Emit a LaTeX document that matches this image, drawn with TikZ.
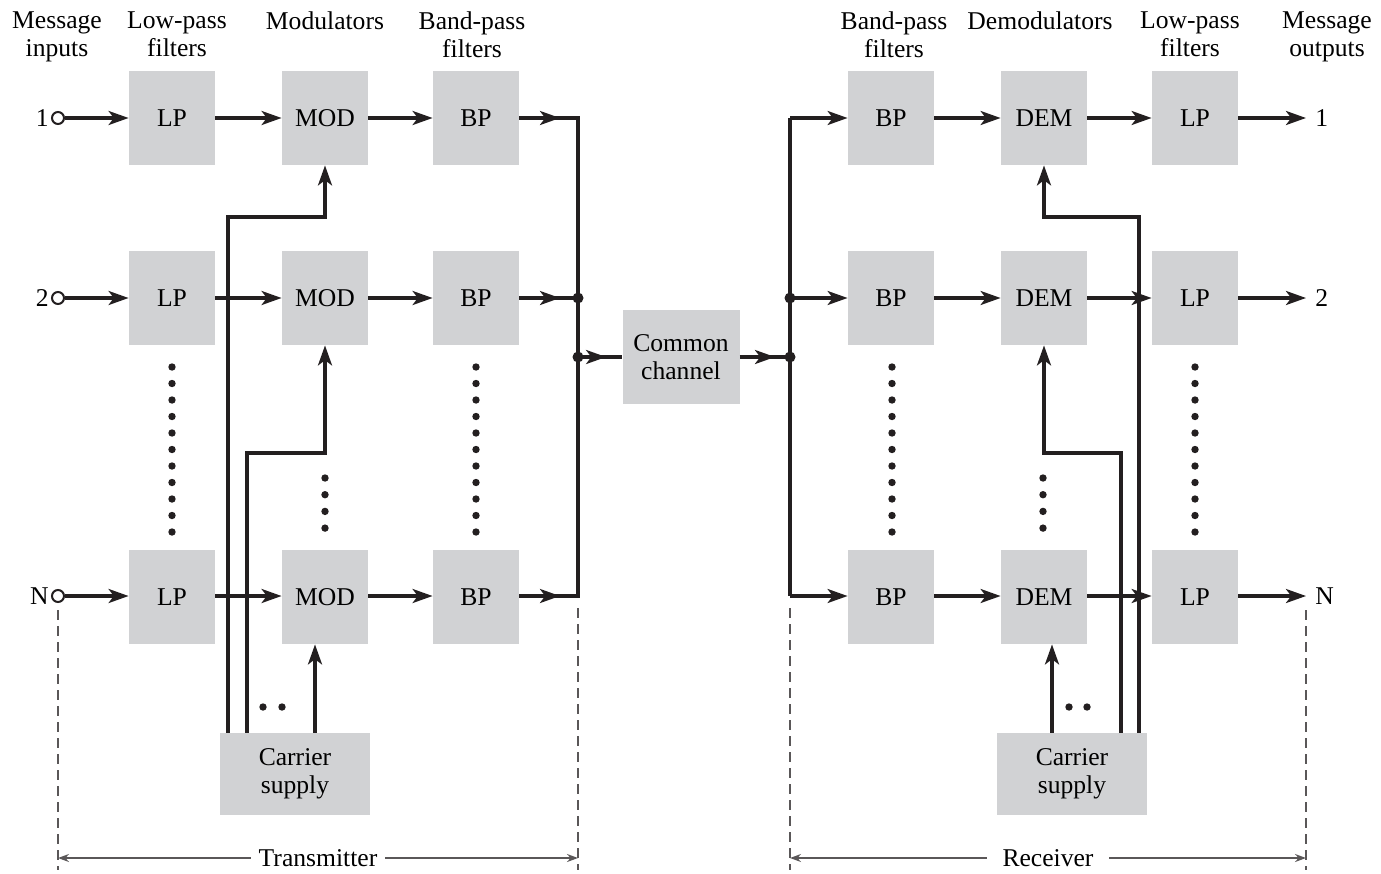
\documentclass[tikz,border=0pt]{standalone}
\usepackage{fontspec}
\setmainfont{Liberation Serif}
\usetikzlibrary{arrows.meta}

\definecolor{boxgray}{RGB}{209,210,212}
\definecolor{ink}{RGB}{35,31,32}

\tikzset{
    blk/.style={fill=boxgray, minimum width=43pt, minimum height=47pt,
        inner sep=0pt, align=center},
    wire/.style={draw=ink, line width=1.6pt},
    tip/.style={-{Stealth[length=10pt,width=7pt,inset=2.6pt]}},
    hdr/.style={align=center, anchor=north, inner sep=0pt},
    incirc/.style={circle, draw=ink, line width=1pt, fill=white,
        minimum size=6pt, inner sep=0pt},
    bound/.style={draw=ink!75, line width=0.8pt, dash pattern=on 5pt off 3pt},
    span/.style={draw=ink!75, line width=0.8pt,
        {Stealth[length=5.5pt,width=4pt]}-{Stealth[length=5.5pt,width=4pt]}}
}

\begin{document}
\begin{tikzpicture}[x=0.5pt, y=-0.5pt, font=\fontsize{12.8}{14}\selectfont]
    \useasboundingbox (0,0) rectangle (1381,873);

    % headings
    \node[hdr] (hin)  at (57,11)   {Message\\inputs};
    \node[hdr] (hlp)  at (177,11)  {Low-pass\\filters};
    \node[hdr] (hmod) at (325,11)  {Modulators};
    \node[hdr] (hbp)  at (472,11)  {Band-pass\\filters};
    \node[hdr] (rbp)  at (894,11)  {Band-pass\\filters};
    \node[hdr] (rdem) at (1040,11) {Demodulators};
    \node[hdr] (rlp)  at (1190,11) {Low-pass\\filters};
    \node[hdr] (rout) at (1327,11) {Message\\outputs};

    % transmitter
    \node[incirc] (in1) at (58,118) {};
    \node[incirc] (in2) at (58,298) {};
    \node[incirc] (inN) at (58,596) {};
    \node[anchor=east, inner sep=1pt] (lab1) at (in1.west) {1};
    \node[anchor=east, inner sep=1pt] (lab2) at (in2.west) {2};
    \node[anchor=east, inner sep=1pt] (labN) at (inN.west) {N};

    \node[blk] (lp1)  at (172,118) {LP};
    \node[blk] (mod1) at (325,118) {MOD};
    \node[blk] (bp1)  at (476,118) {BP};
    \node[blk] (lp2)  at (172,298) {LP};
    \node[blk] (mod2) at (325,298) {MOD};
    \node[blk] (bp2)  at (476,298) {BP};
    \node[blk] (lpN)  at (172,597) {LP};
    \node[blk] (modN) at (325,597) {MOD};
    \node[blk] (bpN)  at (476,597) {BP};
    \node[blk, minimum width=75pt, minimum height=41pt] (cs1) at (295,774) {Carrier\\supply};

    \coordinate (tb1) at (578,118);
    \coordinate (tb2) at (578,298);
    \coordinate (tbc) at (578,357);
    \coordinate (tbN) at (578,596);
    \coordinate (t1) at (228,217);
    \coordinate (t2) at (247,453);
    \coordinate (t3) at (315,700);

    % channel
    \node[blk, minimum width=58.5pt] (chan) at (681,357) {Common\\channel};

    % receiver
    \node[blk] (bpr1)  at (891,118)  {BP};
    \node[blk] (dem1)  at (1044,118) {DEM};
    \node[blk] (lpr1)  at (1195,118) {LP};
    \node[blk] (bpr2)  at (891,298)  {BP};
    \node[blk] (dem2)  at (1044,298) {DEM};
    \node[blk] (lpr2)  at (1195,298) {LP};
    \node[blk] (bprN)  at (891,597)  {BP};
    \node[blk] (demN)  at (1044,597) {DEM};
    \node[blk] (lprN)  at (1195,597) {LP};
    \node[blk, minimum width=75pt, minimum height=41pt] (cs2) at (1072,774) {Carrier\\supply};

    \coordinate (rb1) at (790,118);
    \coordinate (rb2) at (790,298);
    \coordinate (rbc) at (790,357);
    \coordinate (rbN) at (790,596);
    \coordinate (r1) at (1139,217);
    \coordinate (r2) at (1121,453);
    \coordinate (r3) at (1052,700);

    \coordinate (out1) at (1306,118);
    \coordinate (out2) at (1306,298);
    \coordinate (outN) at (1306,596);
    \node[anchor=west, inner sep=0pt] (olab1) at (1315,118) {1};
    \node[anchor=west, inner sep=0pt] (olab2) at (1315,298) {2};
    \node[anchor=west, inner sep=0pt] (olabN) at (1315,596) {N};

    % transmitter wires
    \draw[wire,tip] (in1) -- (lp1);
    \draw[wire,tip] (lp1) -- (mod1);
    \draw[wire,tip] (mod1) -- (bp1);
    \draw[wire,tip] (in2) -- (lp2);
    \draw[wire,tip] (lp2) -- (mod2);
    \draw[wire,tip] (mod2) -- (bp2);
    \draw[wire,tip] (inN) -- (lpN.west |- inN);
    \draw[wire,tip] (lpN.east |- inN) -- (modN.west |- inN);
    \draw[wire,tip] (modN.east |- inN) -- (bpN.west |- inN);
    \draw[wire] (bp1) -- (tb1) -- (tbN) -- (bpN.east |- tbN);
    \draw[wire] (bp2) -- (tb2);
    \draw[wire,tip,shorten >=9pt] (bp1) -- (tb1);
    \draw[wire,tip,shorten >=9pt] (bp2) -- (tb2);
    \draw[wire,tip,shorten >=9pt] (bpN.east |- tbN) -- (tbN);

    \draw[wire,tip] (t1 |- cs1.north) -- (t1) -| (mod1.south);
    \draw[wire,tip] (t2 |- cs1.north) -- (t2) -| (mod2.south);
    \draw[wire,tip] (t3 |- cs1.north) -- (t3 |- modN.south);

    % channel wires
    \draw[wire] (tbc) -- (chan) -- (rbc);
    \draw[wire,tip,shorten >=8pt] (tbc) -- (chan.west);
    \draw[wire,tip,shorten >=7.5pt] (chan.east) -- (rbc);

    % receiver wires
    \draw[wire] (rb1) -- (rbN);
    \draw[wire,tip] (rb1) -- (bpr1);
    \draw[wire,tip] (rb2) -- (bpr2);
    \draw[wire,tip] (rbN) -- (bprN.west |- rbN);
    \draw[wire,tip] (bpr1) -- (dem1);
    \draw[wire,tip] (dem1) -- (lpr1);
    \draw[wire,tip] (lpr1) -- (out1);
    \draw[wire,tip] (bpr2) -- (dem2);
    \draw[wire,tip] (dem2) -- (lpr2);
    \draw[wire,tip] (lpr2) -- (out2);
    \draw[wire,tip] (bprN.east |- rbN) -- (demN.west |- rbN);
    \draw[wire,tip] (demN.east |- rbN) -- (lprN.west |- rbN);
    \draw[wire,tip] (lprN.east |- rbN) -- (outN);

    \draw[wire,tip] (r1 |- cs2.north) -- (r1) -| (dem1.south);
    \draw[wire,tip] (r2 |- cs2.north) -- (r2) -| (dem2.south);
    \draw[wire,tip] (r3 |- cs2.north) -- (r3 |- demN.south);

    % junctions and dots
    \fill[ink] (tb2) circle[radius=5.5] (tbc) circle[radius=5.5]
        (rb2) circle[radius=5.5] (rbc) circle[radius=5.5];
    \foreach \k in {0,...,10}
        \fill[ink] (172,{367+16.5*\k}) circle[radius=3.7]
            (476,{367+16.5*\k}) circle[radius=3.7]
            (892,{367+16.5*\k}) circle[radius=3.7]
            (1195,{367+16.5*\k}) circle[radius=3.7];
    \foreach \k in {0,...,3}
        \fill[ink] (325,{478+16.7*\k}) circle[radius=3.7]
            (1043,{478+16.7*\k}) circle[radius=3.7];
    \fill[ink] (263,707) circle[radius=3.7] (282,707) circle[radius=3.7]
        (1069,707) circle[radius=3.7] (1087,707) circle[radius=3.7];

    % extents
    \draw[bound] (58,610) -- (58,870);
    \draw[bound] (578,608) -- (578,870);
    \draw[bound] (790,608) -- (790,870);
    \draw[bound] (1306,610) -- (1306,870);
    \draw[span] (58,858) -- node[fill=white, inner xsep=4pt] (ltx) {Transmitter} (578,858);
    \draw[span] (790,858) -- node[fill=white, inner xsep=8pt] (lrx) {Receiver} (1306,858);
\end{tikzpicture}
\end{document}
